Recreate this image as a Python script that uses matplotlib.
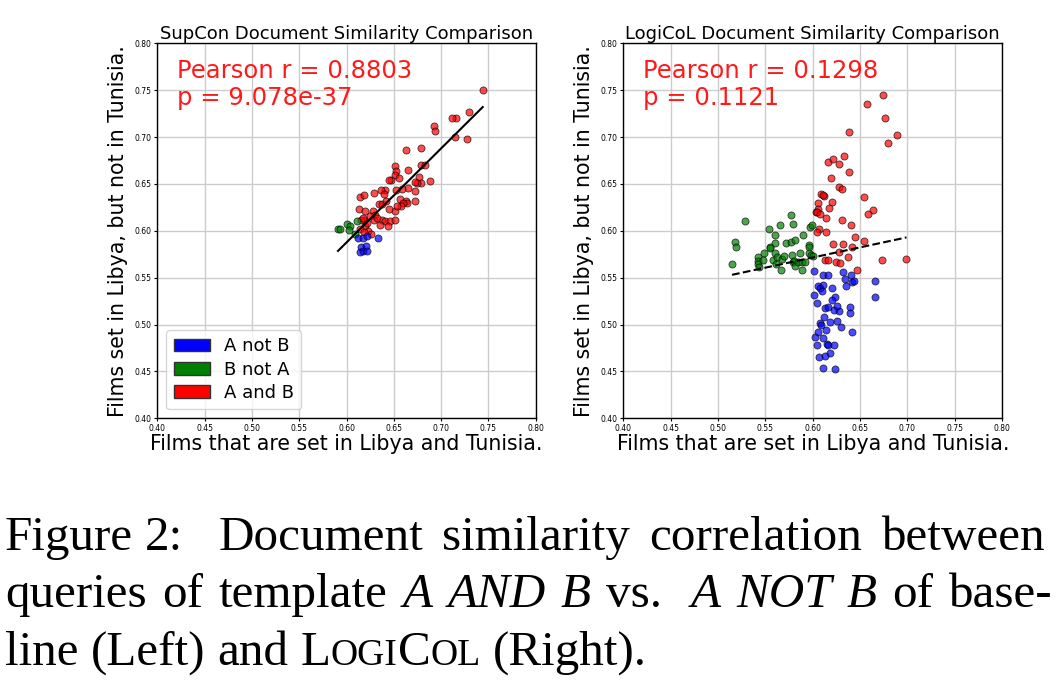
import numpy as np
import matplotlib.pyplot as plt
import matplotlib.patches as mpatches

# ---- data ----
# SupCon (left)
sup_red_x = [0.744, 0.729, 0.716, 0.712, 0.692, 0.694, 0.715, 0.727, 0.663, 0.679,
             0.651, 0.652, 0.651, 0.647, 0.645, 0.665, 0.679, 0.683, 0.677, 0.679,
             0.675, 0.688, 0.672, 0.655, 0.665, 0.659, 0.652, 0.641, 0.636, 0.629,
             0.614, 0.618, 0.640, 0.634, 0.638, 0.642, 0.657, 0.663, 0.664, 0.672,
             0.672, 0.660, 0.658, 0.651, 0.645, 0.653, 0.613, 0.620, 0.628, 0.630,
             0.625, 0.629, 0.619, 0.615, 0.638, 0.641, 0.646, 0.651, 0.635, 0.644,
             0.620, 0.622, 0.614, 0.623, 0.619, 0.626, 0.617, 0.632]
sup_red_y = [0.750, 0.727, 0.720, 0.720, 0.712, 0.706, 0.700, 0.698, 0.686, 0.688,
             0.669, 0.664, 0.660, 0.654, 0.654, 0.665, 0.670, 0.670, 0.657, 0.651,
             0.651, 0.653, 0.652, 0.656, 0.646, 0.645, 0.643, 0.644, 0.643, 0.640,
             0.636, 0.638, 0.639, 0.629, 0.629, 0.632, 0.634, 0.632, 0.630, 0.642,
             0.632, 0.630, 0.626, 0.621, 0.623, 0.626, 0.623, 0.621, 0.621, 0.617,
             0.616, 0.611, 0.611, 0.611, 0.611, 0.610, 0.610, 0.611, 0.606, 0.605,
             0.605, 0.608, 0.602, 0.600, 0.599, 0.597, 0.614, 0.614]
sup_green_x = [0.591, 0.593, 0.601, 0.604, 0.603, 0.611, 0.609]
sup_green_y = [0.602, 0.602, 0.607, 0.605, 0.601, 0.610, 0.597]
sup_blue_x = [0.612, 0.617, 0.622, 0.633, 0.615, 0.621, 0.614, 0.617, 0.622]
sup_blue_y = [0.592, 0.592, 0.594, 0.592, 0.583, 0.584, 0.577, 0.578, 0.578]

# LogiCoL (right)
log_red_x = [0.6746, 0.6577, 0.6761, 0.6884, 0.6799, 0.6384, 0.6166, 0.6211, 0.6335, 0.6275,
             0.6380, 0.6197, 0.6275, 0.6313, 0.6546, 0.6088, 0.6120, 0.6110, 0.6056, 0.6201,
             0.6169, 0.6053, 0.6039, 0.6050, 0.6081, 0.6137, 0.6306, 0.6408, 0.6637, 0.6585,
             0.6063, 0.6042, 0.6141, 0.6451, 0.6539, 0.6218, 0.6320, 0.6419, 0.6278, 0.6373,
             0.6127, 0.6166, 0.6246, 0.6292, 0.6729, 0.6989, 0.6468]
log_red_y = [0.7447, 0.7354, 0.7208, 0.7020, 0.6941, 0.7052, 0.6738, 0.6767, 0.6802, 0.6710,
             0.6625, 0.6560, 0.6472, 0.6450, 0.6365, 0.6393, 0.6368, 0.6380, 0.6297, 0.6311,
             0.6244, 0.6233, 0.6198, 0.6195, 0.6183, 0.6133, 0.6112, 0.6062, 0.6219, 0.6180,
             0.6016, 0.5988, 0.5984, 0.5934, 0.5888, 0.5863, 0.5860, 0.5827, 0.5774, 0.5724,
             0.5692, 0.5692, 0.5664, 0.5653, 0.5692, 0.5703, 0.5585]
log_green_x = [0.5282, 0.5180, 0.5187, 0.5148, 0.5542, 0.5658, 0.5768, 0.5796, 0.5602, 0.5606,
               0.5546, 0.5549, 0.5486, 0.5419, 0.5423, 0.5423, 0.5433, 0.5479, 0.5581, 0.5599,
               0.5620, 0.5616, 0.5669, 0.5680, 0.5698, 0.5715, 0.5768, 0.5810, 0.5782, 0.5792,
               0.5806, 0.5817, 0.5842, 0.5863, 0.5891, 0.5915, 0.5887, 0.5901, 0.5961, 0.5965,
               0.5972, 0.5989, 0.5958, 0.5979, 0.6000]
log_green_y = [0.6101, 0.5877, 0.5827, 0.5646, 0.6016, 0.6062, 0.6166, 0.6077, 0.5956, 0.5870,
               0.5827, 0.5813, 0.5763, 0.5717, 0.5682, 0.5650, 0.5614, 0.5692, 0.5692, 0.5763,
               0.5724, 0.5650, 0.5582, 0.5703, 0.5735, 0.5870, 0.5877, 0.5898, 0.5738, 0.5664,
               0.5675, 0.5621, 0.5664, 0.5760, 0.5664, 0.5664, 0.5585, 0.5956, 0.5845, 0.5824,
               0.6044, 0.6059, 0.5763, 0.5745, 0.5735]
log_blue_x = [0.6014, 0.6113, 0.6166, 0.6320, 0.6408, 0.6345, 0.6352, 0.6412, 0.6433, 0.6662,
              0.6658, 0.6053, 0.6074, 0.6113, 0.6096, 0.6201, 0.6018, 0.6239, 0.6204, 0.6042,
              0.6127, 0.6162, 0.6225, 0.6278, 0.6254, 0.6394, 0.6394, 0.6123, 0.6180, 0.6077,
              0.6088, 0.6257, 0.6299, 0.6144, 0.6060, 0.6419, 0.6025, 0.6106, 0.6148, 0.6166,
              0.6225, 0.6042, 0.6187, 0.6127, 0.6067, 0.6109, 0.6239]
log_blue_y = [0.5566, 0.5527, 0.5527, 0.5562, 0.5527, 0.5486, 0.5415, 0.5457, 0.5464, 0.5464,
              0.5294, 0.5408, 0.5386, 0.5418, 0.5354, 0.5386, 0.5317, 0.5294, 0.5266, 0.5226,
              0.5180, 0.5187, 0.5159, 0.5145, 0.5199, 0.5187, 0.5127, 0.5077, 0.5024, 0.5013,
              0.4991, 0.5041, 0.4977, 0.4942, 0.4917, 0.4917, 0.4864, 0.4853, 0.4796, 0.4779,
              0.4779, 0.4783, 0.4694, 0.4665, 0.4658, 0.4537, 0.4523]

titles = ['SupCon Document Similarity Comparison', 'LogiCoL Document Similarity Comparison']
stats = ['Pearson r = 0.8803\np = 9.078e-37', 'Pearson r = 0.1298\np = 0.1121']
ticks = np.arange(0.40, 0.8001, 0.05)

fig = plt.figure(figsize=(10.6, 6.9), dpi=100)
ax1 = fig.add_axes([0.1484, 0.3938, 0.357, 0.5435])
ax2 = fig.add_axes([0.588, 0.3938, 0.3575, 0.5435])

groups = [
    (ax1, sup_red_x, sup_red_y, sup_green_x, sup_green_y, sup_blue_x, sup_blue_y, '-'),
    (ax2, log_red_x, log_red_y, log_green_x, log_green_y, log_blue_x, log_blue_y, '--'),
]

for i, (ax, rx, ry, gx, gy, bx, by, ls) in enumerate(groups):
    ax.scatter(rx, ry, s=26, c='red', alpha=0.7, edgecolors='black', linewidths=0.6, zorder=3)
    ax.scatter(gx, gy, s=26, c='green', alpha=0.7, edgecolors='black', linewidths=0.6, zorder=3)
    ax.scatter(bx, by, s=26, c='blue', alpha=0.7, edgecolors='black', linewidths=0.6, zorder=3)

    # least squares line over all points
    allx = np.array(rx + gx + bx)
    ally = np.array(ry + gy + by)
    m, b = np.polyfit(allx, ally, 1)
    xs = np.array([allx.min(), allx.max()])
    ax.plot(xs, m * xs + b, 'k' + ls, lw=1.5, zorder=4)

    ax.set_xlim(0.40, 0.80)
    ax.set_ylim(0.40, 0.80)
    ax.set_xticks(ticks)
    ax.set_yticks(ticks)
    ax.set_xticklabels(['%.2f' % t for t in ticks])
    ax.set_yticklabels(['%.2f' % t for t in ticks])
    ax.tick_params(labelsize=5.5, length=2.5, width=0.8, pad=1.5)
    ax.grid(True, color='#cccccc', lw=1)
    ax.set_axisbelow(True)
    for s in ax.spines.values():
        s.set_linewidth(1)
    ax.set_title(titles[i], fontsize=13, pad=3)
    ax.set_xlabel('Films that are set in Libya and Tunisia.', fontsize=14.8, labelpad=1)
    ax.set_ylabel('Films set in Libya, but not in Tunisia.', fontsize=14.8, labelpad=5)
    ax.text(0.053, 0.957, stats[i], transform=ax.transAxes, color='#ff1a1a',
            fontsize=17.5, va='top', ha='left', linespacing=1.12)

handles = [mpatches.Patch(facecolor='blue', edgecolor='#333333', label='A not B'),
           mpatches.Patch(facecolor='green', edgecolor='#333333', label='B not A'),
           mpatches.Patch(facecolor='red', edgecolor='#333333', label='A and B')]
ax1.legend(handles=handles, loc='lower left', fontsize=13, labelspacing=0.3,
           borderaxespad=0.5)

# ---- caption, justified like the paper ----
N, I, S = 'n', 'i', 's'
cap_lines = [
    [[('Figure', N)], [('2:', N)], [('Document', N)], [('similarity', N)],
     [('correlation', N)], [('between', N)]],
    [[('queries', N)], [('of', N)], [('template', N)], [('A', I)], [('AND', I)], [('B', I)],
     [('vs.', N)], [('A', I)], [('NOT', I)], [('B', I)], [('of', N)], [('base-', N)]],
    [[('line', N)], [('(Left)', N)], [('and', N)],
     [('L', N), ('OGI', S), ('C', N), ('OL', S)], [('(Right).', N)]],
]
cap_extra = [[-0.16, 0.33, 0, 0, 0],
             [0, 0, 0, 0, 0, 0, 0.27, 0, 0, 0, 0],
             None]
cap_base = [550, 607, 665]
cap_right = [1045, 1052, None]
cap_left = 5
serif = 'Liberation Serif'

fig.canvas.draw()
rend = fig.canvas.get_renderer()


def seg_props(kind, size):
    if kind == I:
        return dict(fontsize=size, style='italic')
    if kind == S:
        return dict(fontsize=size * 0.77)
    return dict(fontsize=size)


def word_width(word, size):
    w = 0
    for txt, kind in word:
        t = fig.text(0, 0, txt, family=serif, **seg_props(kind, size))
        w += t.get_window_extent(rend).width
        t.remove()
    return w


# font size so that the last (unjustified) line is as wide as in the picture
s0 = 30
last = cap_lines[2]
nat = sum(word_width(wd, s0) for wd in last) + (len(last) - 1) * 0.25 * s0 * 100 / 72
size = s0 * 643 / nat
em = size * 100 / 72

for li, words in enumerate(cap_lines):
    widths = [word_width(wd, size) for wd in words]
    extra = cap_extra[li]
    if extra is None:
        gaps = [0.25 * em] * (len(words) - 1)
    else:
        base = (cap_right[li] - cap_left - sum(widths) - sum(extra) * em) / (len(words) - 1)
        gaps = [base + e * em for e in extra]
    x = cap_left
    y = 1 - cap_base[li] / 690
    for wi, wd in enumerate(words):
        xx = x
        for txt, kind in wd:
            t = fig.text(xx / 1060, y, txt, family=serif, va='baseline', ha='left',
                         **seg_props(kind, size))
            xx += t.get_window_extent(rend).width
        x += widths[wi] + (gaps[wi] if wi < len(gaps) else 0)

fig.savefig('out.png', dpi=100)
